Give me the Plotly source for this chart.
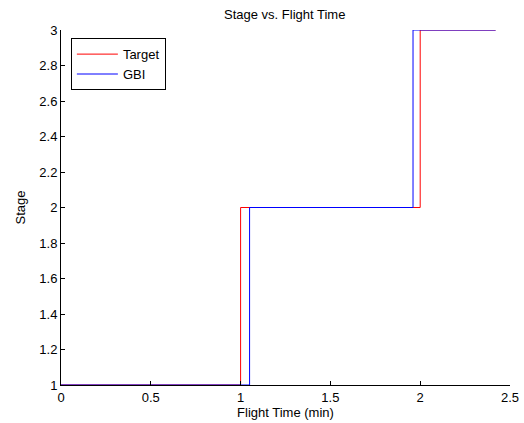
import plotly.graph_objects as go

# Data (step changes, hv shape)
target_t = [0, 1.0, 2.0, 2.42]
target_stage = [1, 2, 3, 3]
gbi_t = [0, 1.05, 1.96, 2.42]
gbi_stage = [1, 2, 3, 3]

x_ticks = [0, 0.5, 1, 1.5, 2, 2.5]
x_labels = ["0", "0.5", "1", "1.5", "2", "2.5"]
y_ticks = [1, 1.2, 1.4, 1.6, 1.8, 2, 2.2, 2.4, 2.6, 2.8, 3]
y_labels = ["1", "1.2", "1.4", "1.6", "1.8", "2", "2.2", "2.4", "2.6", "2.8", "3"]

font = "Liberation Sans, Arial, sans-serif"

fig = go.Figure()
fig.add_trace(go.Scatter(x=target_t, y=target_stage, mode="lines", line_shape="hv",
                         line=dict(color="#ff0000", width=1), name="Target"))
fig.add_trace(go.Scatter(x=gbi_t, y=gbi_stage, mode="lines", line_shape="hv",
                         line=dict(color="#0000ff", width=1), name="GBI"))

fig.update_layout(
    template="none",
    width=524, height=423,
    margin=dict(l=61, r=14, t=30, b=38, autoexpand=False),
    paper_bgcolor="white", plot_bgcolor="white",
    font=dict(family=font, size=13, color="black"),
    title=dict(text="Stage vs. Flight Time", x=284.7 / 524, xanchor="center",
               y=1 - 14 / 423, yanchor="middle", font=dict(size=13)),
    legend=dict(x=0.022, y=0.977, xanchor="left", yanchor="top",
                bordercolor="black", borderwidth=1, bgcolor="white",
                font=dict(size=13), tracegroupgap=0, itemwidth=41),
    showlegend=True,
)
fig.update_xaxes(range=[0, 2.5], tickvals=x_ticks, ticktext=x_labels,
                 automargin=False,
                 showline=True, linecolor="black", linewidth=1,
                 ticks="inside", ticklen=4, tickcolor="black",
                 showgrid=False, zeroline=False,
                 title=dict(text="Flight Time (min)", standoff=2, font=dict(size=13)))
fig.update_yaxes(range=[1, 3], tickvals=y_ticks, ticktext=y_labels,
                 automargin=False,
                 showline=True, linecolor="black", linewidth=1,
                 ticks="inside", ticklen=4, tickcolor="black",
                 showgrid=False, zeroline=False,
                 title=dict(text="Stage", standoff=10, font=dict(size=13)))

fig.write_html("out.html")
